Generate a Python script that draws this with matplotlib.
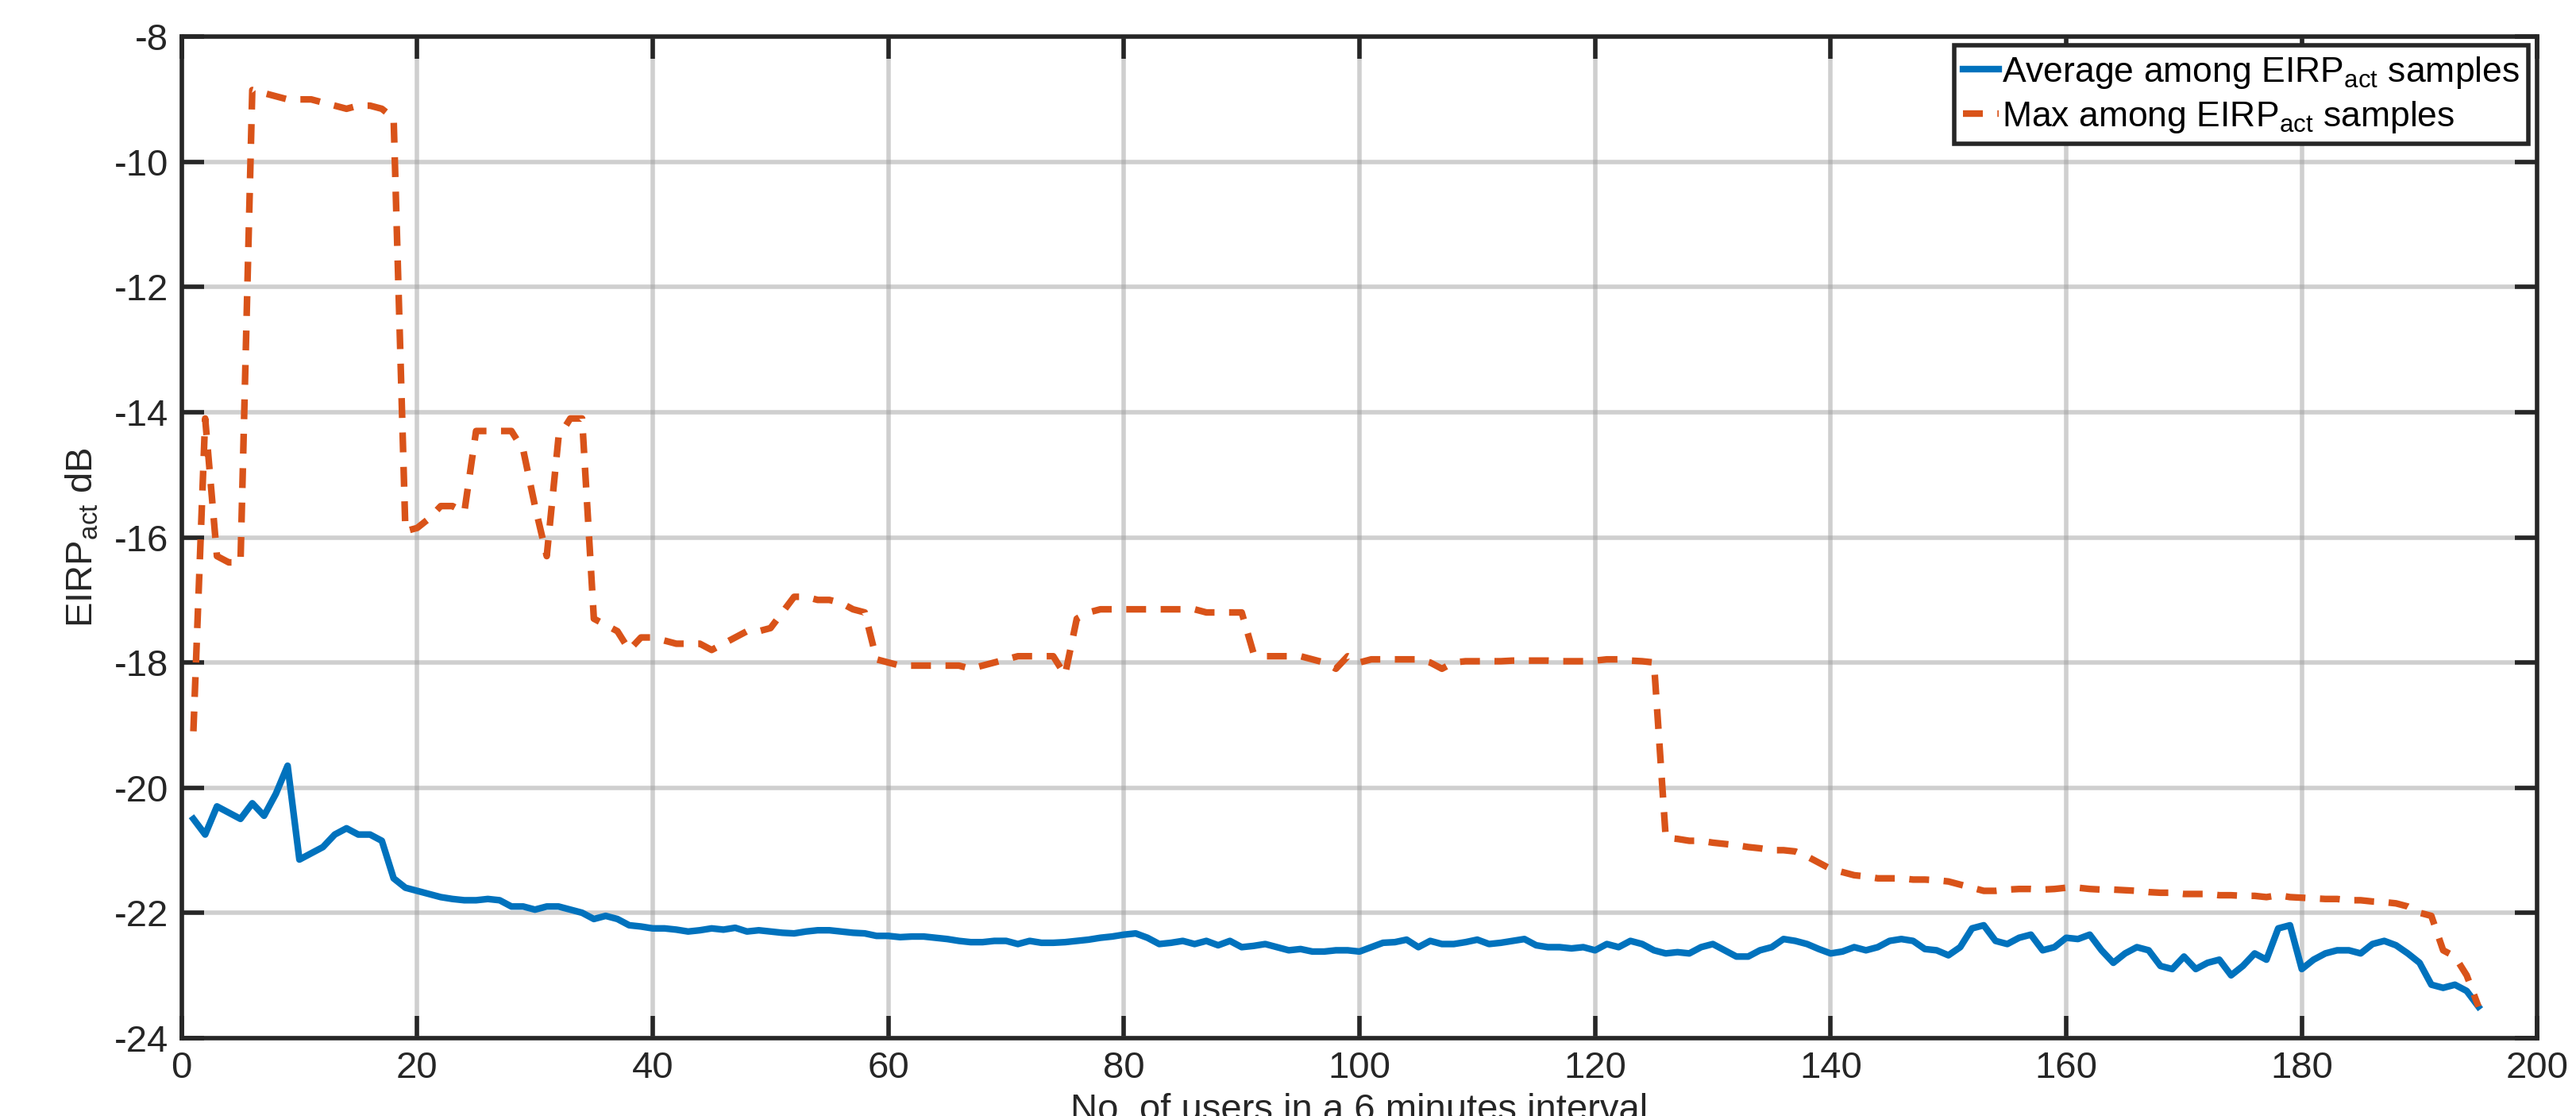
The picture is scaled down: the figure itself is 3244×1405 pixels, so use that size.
import numpy as np
import matplotlib.pyplot as plt

plt.rcParams['font.family'] = ['Liberation Sans', 'DejaVu Sans']
plt.rcParams['axes.unicode_minus'] = False
plt.rcParams['mathtext.default'] = 'regular'

users = np.arange(1, 196)

eirp_max = [
    -19.1, -14.1, -16.3, -16.4, -16.4, -8.85, -8.9, -8.95, -9.0, -9.0,
    -9.0, -9.05, -9.1, -9.15, -9.1, -9.1, -9.15, -9.3, -15.9, -15.85,
    -15.7, -15.5, -15.5, -15.6, -14.3, -14.3, -14.3, -14.3, -14.6, -15.5,
    -16.3, -14.4, -14.1, -14.1, -17.3, -17.4, -17.5, -17.8, -17.6, -17.6,
    -17.65, -17.7, -17.7, -17.7, -17.8, -17.7, -17.6, -17.5, -17.5, -17.45,
    -17.2, -16.95, -16.95, -17.0, -17.0, -17.05, -17.15, -17.2, -17.95, -18.0,
    -18.05, -18.05, -18.05, -18.05, -18.05, -18.05, -18.1, -18.05, -18.0, -17.95,
    -17.9, -17.9, -17.9, -17.9, -18.2, -17.3, -17.2, -17.15, -17.15, -17.15,
    -17.15, -17.15, -17.15, -17.15, -17.15, -17.15, -17.2, -17.2, -17.2, -17.2,
    -17.85, -17.9, -17.9, -17.9, -17.9, -17.95, -18.0, -18.1, -17.9, -18.0,
    -17.95, -17.95, -17.95, -17.95, -17.95, -18.0, -18.1, -18.0, -17.98, -17.98,
    -17.98, -17.98, -17.97, -17.97, -17.97, -17.97, -17.98, -17.98, -17.98, -17.97,
    -17.95, -17.95, -17.97, -17.98, -18.0, -20.8, -20.82, -20.85, -20.85, -20.88,
    -20.9, -20.92, -20.95, -20.97, -21.0, -21.0, -21.02, -21.1, -21.2, -21.3,
    -21.35, -21.4, -21.42, -21.45, -21.45, -21.45, -21.47, -21.47, -21.48, -21.5,
    -21.55, -21.6, -21.65, -21.65, -21.63, -21.62, -21.62, -21.63, -21.62, -21.6,
    -21.6, -21.62, -21.63, -21.63, -21.64, -21.65, -21.67, -21.68, -21.68, -21.7,
    -21.7, -21.7, -21.72, -21.72, -21.73, -21.73, -21.75, -21.72, -21.75, -21.76,
    -21.77, -21.78, -21.78, -21.8, -21.8, -21.82, -21.83, -21.85, -21.9, -22.0,
    -22.05, -22.6, -22.7, -23.0, -23.5,
]

eirp_avg = [
    -20.5, -20.75, -20.3, -20.4, -20.5, -20.25, -20.45, -20.1, -19.65, -21.15,
    -21.05, -20.95, -20.75, -20.65, -20.75, -20.75, -20.85, -21.45, -21.6, -21.65,
    -21.7, -21.75, -21.78, -21.8, -21.8, -21.78, -21.8, -21.9, -21.9, -21.95,
    -21.9, -21.9, -21.95, -22.0, -22.1, -22.05, -22.1, -22.2, -22.22, -22.25,
    -22.25, -22.27, -22.3, -22.28, -22.25, -22.27, -22.24, -22.3, -22.28, -22.3,
    -22.32, -22.33, -22.3, -22.28, -22.28, -22.3, -22.32, -22.33, -22.37, -22.37,
    -22.39, -22.38, -22.38, -22.4, -22.42, -22.45, -22.47, -22.47, -22.45, -22.45,
    -22.5, -22.45, -22.48, -22.48, -22.47, -22.45, -22.43, -22.4, -22.38, -22.35,
    -22.33, -22.4, -22.5, -22.48, -22.45, -22.5, -22.45, -22.52, -22.45, -22.55,
    -22.53, -22.5, -22.55, -22.6, -22.58, -22.62, -22.62, -22.6, -22.6, -22.62,
    -22.55, -22.48, -22.47, -22.43, -22.55, -22.45, -22.5, -22.5, -22.47, -22.43,
    -22.5, -22.48, -22.45, -22.42, -22.52, -22.55, -22.55, -22.57, -22.55, -22.6,
    -22.5, -22.55, -22.45, -22.5, -22.6, -22.65, -22.63, -22.65, -22.55, -22.5,
    -22.6, -22.7, -22.7, -22.6, -22.55, -22.42, -22.45, -22.5, -22.58, -22.65,
    -22.62, -22.55, -22.6, -22.55, -22.45, -22.42, -22.45, -22.58, -22.6, -22.68,
    -22.55, -22.25, -22.2, -22.45, -22.5, -22.4, -22.35, -22.6, -22.55, -22.4,
    -22.42, -22.35, -22.6, -22.8, -22.65, -22.55, -22.6, -22.85, -22.9, -22.7,
    -22.9, -22.8, -22.75, -23.0, -22.85, -22.65, -22.75, -22.25, -22.2, -22.9,
    -22.75, -22.65, -22.6, -22.6, -22.65, -22.5, -22.45, -22.52, -22.65, -22.8,
    -23.15, -23.2, -23.15, -23.25, -23.5,
]

fig = plt.figure(figsize=(16.22, 7.025), dpi=200)
ax = fig.add_axes([0.0705, 0.07, 0.9145, 0.897])

ax.plot(users, eirp_avg, color='#0072BD', lw=3, label='Average among EIRP$_{act}$ samples')
ax.plot(users, eirp_max, color='#D95319', lw=3, ls=(0, (3, 2.2)), label='Max among EIRP$_{act}$ samples')

ax.set_xlim(0, 200)
ax.set_ylim(-24, -8)
ax.set_xticks(np.arange(0, 201, 20))
ax.set_yticks(np.arange(-24, -7, 2))
ax.grid(True, color='#a0a0a0', alpha=0.5, lw=2)
ax.tick_params(direction='in', top=True, right=True, length=10, width=2, labelsize=17, colors='#262626', pad=6)
for s in ax.spines.values():
    s.set_linewidth(2)
    s.set_color('#262626')

ax.set_xlabel('No. of users in a 6 minutes interval', fontsize=17, labelpad=3, color='#262626')
ax.set_ylabel('EIRP$_{act}$ dB', fontsize=17, labelpad=6, color='#262626')

leg = ax.legend(loc='upper right', fontsize=16, fancybox=False, framealpha=1,
                edgecolor='#262626', handlelength=1.0, handletextpad=0.1,
                borderaxespad=0.25, borderpad=0.25, labelspacing=0.25)
leg.get_frame().set_linewidth(2)

fig.savefig('out.png', dpi=200)
